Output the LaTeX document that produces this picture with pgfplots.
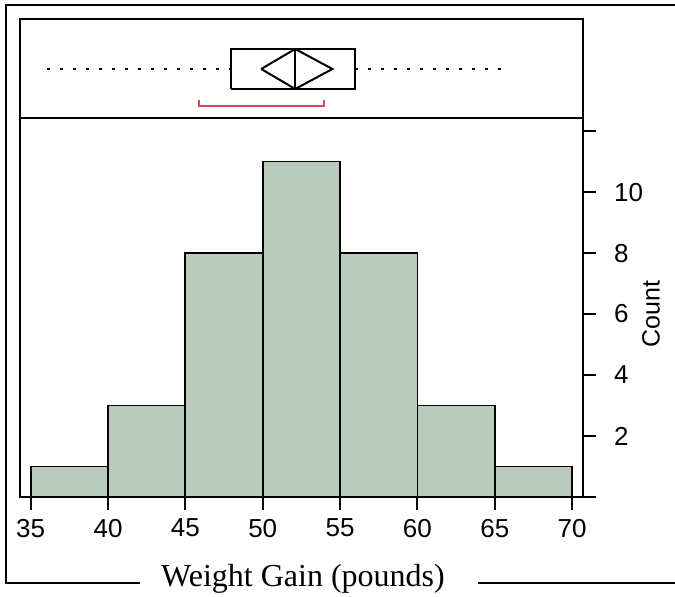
\documentclass[border=0pt]{standalone}
\usepackage{fontspec}
\setmainfont{Liberation Serif}
\setsansfont{Liberation Sans}
\usepackage{pgfplots}
\pgfplotsset{compat=1.18}
\definecolor{barfill}{RGB}{186,202,188}
\definecolor{bracketred}{RGB}{232,64,88}

\begin{document}
\begin{tikzpicture}[x=1pt,y=1pt]
\useasboundingbox (0,0) rectangle (337.5,298.5);
% outer frame, broken around the x label
\draw[line width=1pt] (70,7) -- (3,7) -- (3,296) -- (337.5,296);
\draw[line width=1pt] (239,7) -- (337.5,7);
\node[anchor=base, font=\fontsize{16}{19}\selectfont] at (151.5,5) {Weight Gain (pounds)};
\node[rotate=90, font=\sffamily\fontsize{12.5}{15}\selectfont] at (325.5,141.5) {Count};

% histogram
\begin{axis}[
    name=hist, at={(10pt,50pt)}, anchor=south west,
    scale only axis, width=281.5pt, height=189.5pt,
    xmin=34.31, xmax=70.7, ymin=0, ymax=12.43,
    xtick={35,40,...,70}, ytick={0,2,...,12}, yticklabels={,2,4,6,8,10,},
    xtick pos=bottom, ytick pos=right, yticklabel pos=right,
    tick align=outside, major tick length=6.5pt,
    tick style={line width=1pt, black},
    axis line style={line width=1pt},
    ticklabel style={font=\sffamily\fontsize{13}{15}\selectfont},
    yticklabel style={xshift=5.5pt},
    xticklabel style={yshift=-1pt},
    /pgf/number format/assume math mode=true,
]
\addplot[ybar interval, fill=barfill, draw=black, line width=0.9pt] coordinates {
    (35,1) (40,3) (45,8) (50,11) (55,8) (60,3) (65,1) (70,1)
};
\end{axis}

% box plot panel
\begin{axis}[
    at={(10pt,239.5pt)}, anchor=south west,
    scale only axis, width=281.5pt, height=49.5pt,
    xmin=34.31, xmax=70.7, ymin=0, ymax=1,
    xtick=\empty, ytick=\empty,
    axis line style={line width=1pt},
]
% whiskers
\addplot[black, line width=1pt, dash pattern=on 1.5pt off 5pt] coordinates {(36.06,0.495) (47.97,0.495)};
\addplot[black, line width=1pt, dash pattern=on 1.5pt off 5pt] coordinates {(55.98,0.495) (65.43,0.495)};
% box
\addplot[black, line width=1pt, line join=miter] coordinates {
    (47.97,0.293) (55.98,0.293) (55.98,0.697) (47.97,0.697) (47.97,0.293)
};
% median
\addplot[black, line width=1pt] coordinates {(52.1,0.293) (52.1,0.697)};
% mean diamond
\addplot[black, line width=1pt, line join=miter] coordinates {
    (49.9,0.495) (52.1,0.697) (54.5,0.495) (52.1,0.293) (49.9,0.495)
};
% shortest half bracket
\addplot[bracketred, line width=1pt] coordinates {
    (45.9,0.182) (45.9,0.121) (53.97,0.121) (53.97,0.182)
};
\end{axis}
\end{tikzpicture}
\end{document}
